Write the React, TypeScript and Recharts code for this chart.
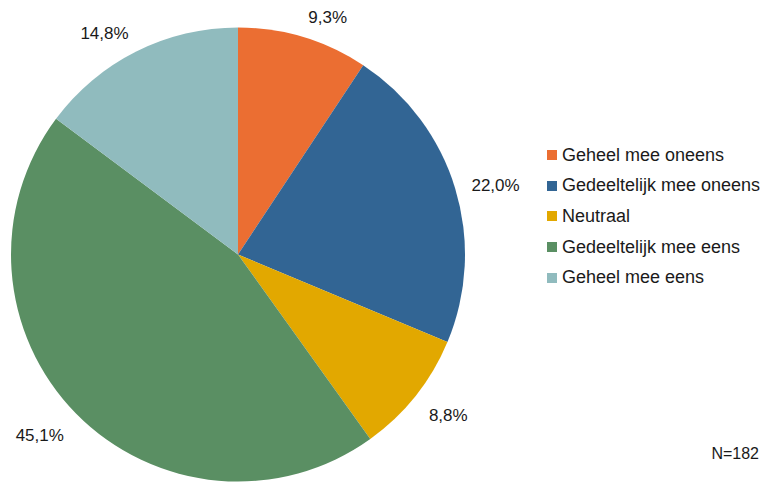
import { PieChart, Pie, Cell, Legend, Text } from 'recharts';

const categories = [
  'Geheel mee oneens',
  'Gedeeltelijk mee oneens',
  'Neutraal',
  'Gedeeltelijk mee eens',
  'Geheel mee eens',
];
const percentages = [9.3, 22.0, 8.8, 45.1, 14.8];
const colors = ['#EB6E32', '#326594', '#E2A800', '#5A8F63', '#90BBBE'];
const sampleNote = 'N=182';

const chartData = categories.map((name, i) => ({ name, value: percentages[i] }));

const RADIAN = Math.PI / 180;
const FONT = '"Liberation Sans", Arial, sans-serif';

function renderLabel(props: any) {
  const { cx, cy, midAngle, outerRadius, value } = props;
  const cos = Math.cos(-midAngle * RADIAN);
  const sin = Math.sin(-midAngle * RADIAN);
  const r = outerRadius + 17;
  // label box edge sits on the ray, text hangs off to the outer side
  const x = cx + r * cos;
  const y = cy + r * sin + sin * 8 + 4;
  return (
    <text
      x={x}
      y={y}
      textAnchor={cos >= 0 ? 'start' : 'end'}
      dominantBaseline="central"
      fontSize={17}
      fontFamily={FONT}
      fill="#1a1a1a"
    >
      {value.toFixed(1).replace('.', ',') + '%'}
    </text>
  );
}

function LegendList() {
  return (
    <div style={{ fontFamily: FONT, fontSize: 18, color: '#1a1a1a' }}>
      {categories.map((name, i) => (
        <div key={name} style={{ display: 'flex', alignItems: 'center', height: 30.6, whiteSpace: 'nowrap' }}>
          <span style={{ display: 'inline-block', width: 10, height: 10, background: colors[i], marginRight: 5 }} />
          <span>{name}</span>
        </div>
      ))}
    </div>
  );
}

export default function App() {
  return (
    <div style={{ position: 'absolute', left: 0, top: 0, width: 763, height: 484, background: '#fff' }}>
      <PieChart width={763} height={484} margin={{ top: 0, right: 0, bottom: 0, left: 0 }}>
        <Pie
          data={chartData}
          dataKey="value"
          nameKey="name"
          cx={238}
          cy={254.5}
          outerRadius={227}
          startAngle={90}
          endAngle={-270}
          stroke="none"
          label={renderLabel}
          labelLine={false}
          isAnimationActive={false}
        >
          {chartData.map((d, i) => (
            <Cell key={d.name} fill={colors[i]} />
          ))}
        </Pie>
        <Legend
          layout="vertical"
          content={() => <LegendList />}
          wrapperStyle={{ left: 547, top: 140, width: 216 }}
        />
        <Text x={759} y={453} textAnchor="end" verticalAnchor="middle" fontSize={16} fontFamily={FONT} fill="#1a1a1a">
          {sampleNote}
        </Text>
      </PieChart>
    </div>
  );
}
